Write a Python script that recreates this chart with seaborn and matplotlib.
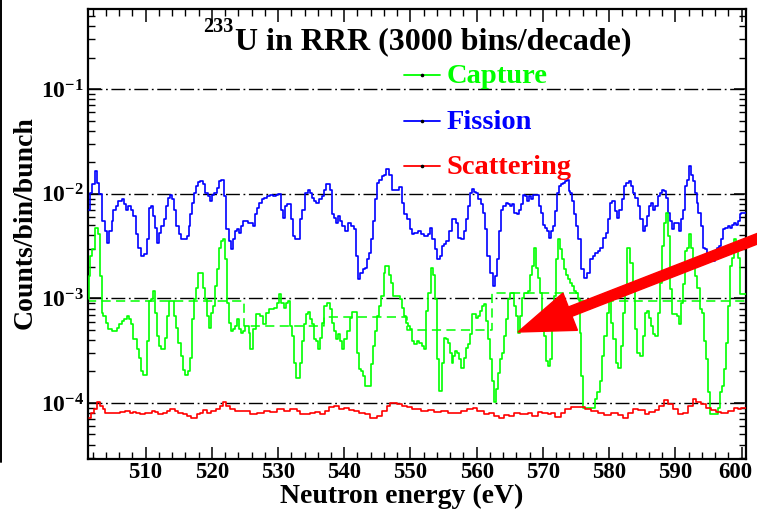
import numpy as np
import pandas as pd
import matplotlib
matplotlib.use("Agg")
import matplotlib.pyplot as plt
from matplotlib.lines import Line2D
from matplotlib.patches import FancyArrow
from matplotlib.transforms import IdentityTransform, ScaledTranslation
from matplotlib.ticker import MultipleLocator, LogLocator, FuncFormatter, NullFormatter
import seaborn as sns

# ---------------------------------------------------------------------------
# Counts per bin per bunch, 233U resolved resonance region (step start, value)
# ---------------------------------------------------------------------------
fission_steps = [
    (501.4, 7.08e-3), (501.6, 1.02e-2), (501.85, 1.23e-2), (502.36, 1.65e-2), (502.71, 1.27e-2),
    (503.01, 9.9e-3), (503.36, 5.48e-3), (503.86, 4.40e-3), (504.12, 3.40e-3), (504.52, 4.40e-3),
    (504.87, 5.48e-3), (505.12, 7.08e-3), (505.52, 7.62e-3), (505.87, 8.51e-3), (506.38, 8.83e-3),
    (506.73, 7.91e-3), (507.03, 7.08e-3), (507.38, 7.62e-3), (507.73, 7.08e-3), (508.03, 6.12e-3),
    (508.54, 4.09e-3), (508.89, 3.05e-3), (509.24, 2.54e-3), (509.74, 2.63e-3), (510.15, 3.66e-3),
    (510.45, 7.35e-3), (510.75, 7.62e-3), (511.15, 6.12e-3), (511.45, 4.73e-3), (511.75, 3.40e-3),
    (512.05, 4.24e-3), (512.36, 4.91e-3), (512.76, 5.69e-3), (513.06, 7.62e-3), (513.36, 9.16e-3),
    (513.66, 9.85e-3), (513.96, 8.83e-3), (514.27, 7.08e-3), (514.57, 4.91e-3), (514.97, 4.09e-3),
    (515.42, 3.66e-3), (516.18, 3.94e-3), (516.48, 4.91e-3), (516.78, 6.35e-3), (517.08, 8.20e-3),
    (517.38, 1.02e-2), (517.68, 1.18e-2), (517.98, 1.29e-2), (518.29, 1.32e-2), (518.69, 1.23e-2),
    (518.99, 1.02e-2), (519.39, 9.50e-3), (519.69, 8.51e-3), (519.99, 9.85e-3), (520.40, 1.02e-2),
    (520.80, 1.14e-2), (521.10, 1.32e-2), (521.40, 1.37e-2), (521.90, 9.50e-3), (522.21, 4.56e-3),
    (522.61, 3.53e-3), (522.91, 2.94e-3), (523.21, 3.66e-3), (523.51, 4.40e-3), (523.81, 4.56e-3),
    (524.12, 4.24e-3), (524.42, 4.91e-3), (524.72, 5.48e-3), (525.42, 5.28e-3), (525.84, 5.28e-3),
    (526.24, 4.91e-3), (526.54, 6.35e-3), (526.85, 7.35e-3), (527.15, 8.20e-3), (527.55, 8.83e-3),
    (527.95, 9.16e-3), (528.35, 9.50e-3), (528.86, 9.85e-3), (529.26, 9.50e-3), (529.66, 9.70e-3),
    (530.06, 9.90e-3), (530.46, 7.08e-3), (530.76, 5.90e-3), (531.07, 7.62e-3), (531.37, 7.91e-3),
    (531.97, 5.69e-3), (532.27, 3.94e-3), (532.57, 3.66e-3), (533.38, 5.69e-3), (533.68, 7.08e-3),
    (534.08, 1.02e-2), (534.48, 1.08e-2), (534.89, 1.02e-2), (535.19, 9.16e-3), (535.49, 8.51e-3),
    (535.79, 8.20e-3), (536.19, 8.83e-3), (536.59, 9.50e-3), (537.0, 1.10e-2), (537.3, 1.23e-2),
    (537.8, 1.10e-2), (538.1, 6.35e-3), (538.4, 5.90e-3), (538.7, 5.28e-3), (539.0, 6.12e-3),
    (539.4, 5.48e-3), (539.7, 4.91e-3), (540.1, 4.40e-3), (540.6, 5.28e-3), (541.0, 4.91e-3),
    (541.4, 4.56e-3), (541.8, 2.54e-3), (542.1, 1.52e-3), (542.4, 1.76e-3), (542.8, 1.89e-3),
    (543.1, 1.96e-3), (543.4, 2.36e-3), (543.7, 2.73e-3), (544.0, 3.66e-3), (544.4, 5.48e-3),
    (544.7, 8.83e-3), (545.0, 1.27e-2), (545.3, 1.37e-2), (545.7, 1.48e-2), (546.0, 1.53e-2),
    (546.3, 1.71e-2), (546.8, 1.53e-2), (547.2, 1.10e-2), (548.2, 1.17e-2), (548.7, 8.20e-3),
    (549.06, 6.35e-3), (549.46, 5.69e-3), (549.86, 4.56e-3), (550.26, 4.09e-3), (550.57, 4.24e-3),
    (551.07, 4.40e-3), (551.58, 4.09e-3), (552.08, 3.94e-3), (552.58, 4.09e-3), (552.98, 4.73e-3),
    (553.28, 3.66e-3), (553.69, 2.94e-3), (553.99, 2.36e-3), (554.39, 2.54e-3), (554.69, 3.16e-3),
    (555.0, 3.28e-3), (555.4, 3.53e-3), (555.8, 4.40e-3), (556.2, 5.69e-3), (556.9, 5.28e-3),
    (557.2, 3.80e-3), (557.6, 3.66e-3), (558.1, 4.40e-3), (558.4, 5.69e-3), (558.7, 7.62e-3),
    (559.0, 1.02e-2), (559.3, 1.12e-2), (559.6, 1.04e-2), (559.9, 1.02e-2), (560.2, 8.83e-3),
    (560.6, 7.91e-3), (560.9, 6.58e-3), (561.2, 4.56e-3), (561.6, 2.54e-3), (562.0, 1.76e-3),
    (562.4, 1.31e-3), (562.7, 1.63e-3), (563.0, 2.36e-3), (563.4, 4.40e-3), (563.7, 7.08e-3),
    (564.0, 7.62e-3), (564.4, 8.20e-3), (564.7, 7.91e-3), (565.1, 7.62e-3), (565.4, 7.91e-3),
    (565.7, 6.58e-3), (566.05, 6.35e-3), (566.45, 7.08e-3), (566.75, 7.91e-3), (567.05, 9.85e-3),
    (567.35, 9.50e-3), (567.65, 8.51e-3), (567.96, 9.50e-3), (568.26, 8.83e-3), (568.56, 9.85e-3),
    (569.36, 7.62e-3), (569.67, 6.58e-3), (569.97, 5.09e-3), (570.27, 4.73e-3), (570.57, 4.40e-3),
    (570.87, 3.80e-3), (571.17, 4.40e-3), (571.47, 4.91e-3), (571.78, 6.83e-3), (572.08, 1.02e-2),
    (572.38, 1.18e-2), (572.68, 1.23e-2), (572.98, 1.27e-2), (573.28, 1.32e-2), (573.59, 1.37e-2),
    (573.89, 1.06e-2), (574.09, 1.02e-2), (574.39, 8.51e-3), (574.69, 6.35e-3), (574.99, 4.91e-3),
    (575.31, 3.66e-3), (575.8, 1.89e-3), (576.2, 1.57e-3), (576.7, 1.76e-3), (577.1, 2.36e-3),
    (577.5, 2.54e-3), (577.9, 2.73e-3), (578.3, 2.83e-3), (578.7, 3.05e-3), (579.1, 3.80e-3),
    (579.5, 4.24e-3), (579.8, 5.69e-3), (580.2, 8.20e-3), (580.5, 8.51e-3), (580.9, 6.83e-3),
    (581.2, 5.90e-3), (581.5, 7.08e-3), (581.9, 8.83e-3), (582.3, 1.18e-2), (582.6, 1.27e-2),
    (582.95, 1.32e-2), (583.35, 1.18e-2), (583.65, 1.02e-2), (583.95, 9.16e-3), (584.35, 7.62e-3),
    (584.66, 5.69e-3), (585.06, 4.40e-3), (585.36, 4.91e-3), (585.66, 6.12e-3), (585.96, 7.62e-3),
    (586.26, 8.20e-3), (586.57, 7.08e-3), (586.97, 7.62e-3), (587.37, 9.50e-3), (587.67, 1.02e-2),
    (587.97, 1.10e-2), (588.28, 1.06e-2), (588.58, 9.16e-3), (588.88, 6.58e-3), (589.18, 5.48e-3),
    (589.48, 4.56e-3), (589.78, 5.28e-3), (590.59, 4.40e-3), (590.89, 5.69e-3), (591.19, 7.08e-3),
    (591.49, 1.18e-2), (591.79, 1.37e-2), (592.09, 1.84e-2), (592.3, 1.53e-2), (592.6, 1.32e-2),
    (592.9, 1.02e-2), (593.2, 8.20e-3), (593.5, 6.58e-3), (593.9, 4.91e-3), (594.2, 3.05e-3),
    (594.5, 2.94e-3), (594.8, 2.63e-3), (595.2, 2.27e-3), (596.0, 2.63e-3), (596.3, 3.05e-3),
    (596.6, 3.16e-3), (596.9, 3.66e-3), (597.2, 4.56e-3), (597.5, 4.73e-3), (597.9, 4.91e-3),
    (598.2, 4.73e-3), (598.5, 5.09e-3), (598.8, 5.28e-3), (599.1, 5.09e-3), (599.4, 5.48e-3),
    (599.7, 6.35e-3), (599.9, 6.58e-3),
]

capture_steps = [
    (501.4, 9.8e-4), (501.5, 1.63e-3), (501.6, 2.54e-3), (501.85, 2.94e-3), (502.36, 4.73e-3),
    (502.86, 4.09e-3), (503.11, 1.63e-3), (503.36, 7.3e-4), (503.61, 6.78e-4), (504.0, 5.86e-4),
    (504.37, 5.06e-4), (504.87, 4.88e-4), (505.62, 5.25e-4), (506.02, 5.65e-4), (506.38, 6.07e-4),
    (506.73, 6.30e-4), (507.13, 6.78e-4), (507.43, 6.30e-4), (507.73, 5.65e-4), (508.13, 4.06e-4),
    (508.64, 3.26e-4), (508.94, 2.71e-4), (509.24, 2.02e-4), (509.54, 1.84e-4), (510.15, 3.91e-4),
    (510.45, 9.4e-4), (510.75, 9.8e-4), (511.05, 1.17e-3), (511.35, 7.3e-4), (511.65, 4.37e-4),
    (511.95, 3.51e-4), (512.26, 3.26e-4), (512.96, 4.21e-4), (513.26, 6.78e-4), (513.56, 9.4e-4),
    (514.27, 6.78e-4), (514.57, 5.25e-4), (514.87, 3.77e-4), (515.27, 2.81e-4), (515.67, 2.07e-4),
    (515.97, 1.84e-4), (516.38, 2.02e-4), (516.78, 2.71e-4), (517.08, 6.30e-4), (517.38, 9.8e-4),
    (517.68, 1.26e-3), (517.98, 1.76e-3), (518.69, 1.26e-3), (518.99, 9.8e-4), (519.29, 6.78e-4),
    (519.59, 5.25e-4), (519.89, 7.3e-4), (520.20, 8.45e-4), (520.50, 1.31e-3), (520.80, 1.89e-3),
    (521.10, 3.05e-3), (521.40, 3.53e-3), (521.70, 3.66e-3), (522.0, 2.36e-3), (522.31, 9.1e-4),
    (522.61, 5.86e-4), (522.91, 4.88e-4), (523.21, 5.06e-4), (523.51, 5.45e-4), (523.81, 6.30e-4),
    (524.12, 5.06e-4), (524.42, 4.70e-4), (524.72, 4.88e-4), (525.02, 5.45e-4), (525.62, 4.70e-4),
    (525.84, 3.26e-4), (526.24, 5.06e-4), (526.64, 7.03e-4), (527.35, 6.78e-4), (527.75, 5.65e-4),
    (528.15, 7.3e-4), (528.65, 7.85e-4), (529.46, 8.14e-4), (529.86, 9.1e-4), (530.16, 1.09e-3),
    (530.46, 9.1e-4), (530.86, 8.14e-4), (531.17, 9.1e-4), (531.57, 9.4e-4), (531.87, 5.45e-4),
    (532.17, 4.37e-4), (532.47, 2.43e-4), (532.77, 1.75e-4), (533.28, 2.43e-4), (533.58, 3.91e-4),
    (533.88, 5.65e-4), (534.18, 7.03e-4), (534.48, 7.4e-4), (534.89, 6.30e-4), (535.19, 5.65e-4),
    (535.49, 4.06e-4), (535.79, 3.91e-4), (536.09, 3.26e-4), (536.39, 4.21e-4), (536.69, 5.86e-4),
    (537.0, 8.45e-4), (537.4, 9.1e-4), (537.8, 7.85e-4), (538.1, 5.86e-4), (538.4, 4.88e-4),
    (538.7, 4.06e-4), (539.0, 4.53e-4), (539.4, 3.91e-4), (539.7, 3.26e-4), (540.0, 4.06e-4),
    (540.4, 4.88e-4), (540.8, 6.53e-4), (541.1, 7.4e-4), (541.9, 3.03e-4), (542.2, 2.10e-4),
    (542.6, 2.02e-4), (542.9, 1.81e-4), (543.2, 1.45e-4), (544.1, 2.34e-4), (544.4, 3.51e-4),
    (544.7, 4.88e-4), (545.0, 6.78e-4), (545.3, 8.45e-4), (545.6, 1.05e-3), (546.0, 1.76e-3),
    (546.2, 2.04e-3), (546.8, 1.69e-3), (547.1, 1.41e-3), (547.4, 1.05e-3), (548.4, 9.8e-4),
    (548.7, 8.14e-4), (549.0, 6.78e-4), (549.3, 5.86e-4), (549.6, 5.45e-4), (549.9, 5.06e-4),
    (550.2, 3.91e-4), (550.57, 3.64e-4), (550.97, 3.91e-4), (551.27, 3.77e-4), (551.68, 3.51e-4),
    (552.08, 3.26e-4), (552.38, 7.57e-4), (552.68, 1.13e-3), (553.08, 1.96e-3), (553.38, 1.69e-3),
    (553.69, 9.8e-4), (553.99, 2.61e-4), (554.29, 1.30e-4), (554.69, 2.43e-4), (555.0, 4.21e-4),
    (555.3, 4.06e-4), (555.6, 3.77e-4), (555.9, 3.03e-4), (556.2, 2.43e-4), (556.5, 2.81e-4),
    (556.8, 3.14e-4), (557.1, 3.03e-4), (557.4, 2.61e-4), (557.7, 2.18e-4), (558.1, 2.71e-4),
    (558.4, 3.38e-4), (558.7, 3.64e-4), (559.0, 4.53e-4), (559.3, 7.03e-4), (559.9, 6.53e-4),
    (560.2, 6.78e-4), (560.5, 7.57e-4), (560.8, 8.45e-4), (561.1, 8.77e-4), (561.4, 6.07e-4),
    (561.7, 4.06e-4), (562.0, 2.61e-4), (562.3, 1.62e-4), (562.6, 1.01e-4), (562.9, 1.35e-4),
    (563.2, 1.95e-4), (563.5, 2.61e-4), (563.8, 3.03e-4), (564.1, 4.37e-4), (564.4, 6.30e-4),
    (564.7, 9.8e-4), (565.0, 1.13e-3), (565.65, 8.45e-4), (565.95, 6.78e-4), (566.25, 4.70e-4),
    (566.55, 6.78e-4), (566.85, 1.01e-3), (567.15, 1.13e-3), (567.75, 1.17e-3), (568.06, 1.69e-3),
    (568.36, 2.04e-3), (568.66, 3.05e-3), (568.96, 1.96e-3), (569.26, 1.57e-3), (569.56, 1.13e-3),
    (569.87, 7.03e-4), (570.17, 4.37e-4), (570.47, 2.52e-4), (570.77, 2.26e-4), (571.07, 2.61e-4),
    (571.37, 5.06e-4), (571.67, 1.05e-3), (571.98, 2.36e-3), (572.28, 3.66e-3), (572.58, 2.94e-3),
    (572.88, 2.36e-3), (573.18, 1.89e-3), (573.48, 1.69e-3), (573.79, 1.52e-3), (574.09, 1.41e-3),
    (574.39, 1.31e-3), (574.69, 1.17e-3), (574.99, 1.13e-3), (575.31, 9.8e-4), (575.6, 4.70e-4),
    (575.8, 1.81e-4), (576.1, 9.0e-5), (577.8, 1.08e-4), (578.2, 1.26e-4), (578.6, 1.62e-4),
    (578.9, 2.81e-4), (579.3, 4.37e-4), (579.7, 7.3e-4), (580.0, 9.8e-4), (580.3, 5.86e-4),
    (580.6, 4.06e-4), (581.0, 2.43e-4), (581.3, 2.18e-4), (581.8, 3.51e-4), (582.1, 7.3e-4),
    (582.4, 1.31e-3), (582.75, 3.05e-3), (583.15, 2.19e-3), (583.55, 1.22e-3), (583.85, 5.06e-4),
    (584.25, 3.03e-4), (584.66, 2.81e-4), (585.06, 4.37e-4), (585.36, 7.3e-4), (585.66, 7.57e-4),
    (585.96, 6.53e-4), (586.26, 5.45e-4), (586.67, 4.53e-4), (586.97, 4.37e-4), (587.37, 7.3e-4),
    (587.67, 1.41e-3), (587.97, 3.16e-3), (588.28, 5.28e-3), (588.58, 6.58e-3), (588.88, 3.94e-3),
    (589.18, 1.22e-3), (589.48, 7.03e-4), (590.29, 6.78e-4), (590.59, 5.65e-4), (590.89, 9.1e-4),
    (591.19, 1.36e-3), (591.49, 2.83e-3), (591.79, 3.05e-3), (592.09, 4.09e-3), (592.4, 3.05e-3),
    (592.7, 1.96e-3), (593.0, 1.63e-3), (593.3, 1.26e-3), (593.7, 7.85e-4), (594.0, 7.3e-4),
    (594.3, 3.91e-4), (594.6, 2.61e-4), (594.9, 1.26e-4), (595.2, 7.8e-5), (596.5, 9.0e-5),
    (596.8, 1.26e-4), (597.1, 1.45e-4), (597.4, 2.10e-4), (597.7, 3.77e-4), (598.0, 8.45e-4),
    (598.3, 2.04e-3), (598.6, 2.45e-3), (598.9, 3.66e-3), (599.2, 2.94e-3), (599.5, 2.45e-3),
    (599.8, 1.09e-3),
]

scattering_steps = [
    (501.4, 7.24e-5), (501.8, 8.09e-5), (502.2, 8.70e-5), (502.6, 1.01e-4), (503.1, 9.36e-5),
    (503.5, 8.70e-5), (503.9, 8.09e-5), (504.6, 7.97e-5), (506.1, 8.21e-5), (506.9, 8.39e-5),
    (507.6, 8.09e-5), (508.1, 8.27e-5), (508.6, 7.97e-5), (509.1, 7.80e-5), (509.9, 8.09e-5),
    (510.4, 7.97e-5), (510.9, 8.39e-5), (511.4, 8.21e-5), (511.9, 7.80e-5), (512.7, 8.09e-5),
    (513.2, 8.39e-5), (513.7, 8.83e-5), (514.4, 8.39e-5), (514.9, 8.09e-5), (515.7, 7.80e-5),
    (516.2, 7.51e-5), (516.9, 7.24e-5), (517.7, 7.80e-5), (518.2, 8.09e-5), (518.7, 8.57e-5),
    (519.2, 8.09e-5), (519.9, 8.39e-5), (520.7, 8.70e-5), (521.2, 9.36e-5), (521.7, 1.01e-4),
    (522.2, 9.36e-5), (522.7, 8.70e-5), (523.5, 8.39e-5), (525.7, 8.09e-5), (525.84, 7.80e-5),
    (526.85, 8.09e-5), (527.85, 8.39e-5), (528.86, 8.27e-5), (529.86, 8.70e-5), (530.87, 8.39e-5),
    (531.87, 8.70e-5), (532.88, 8.39e-5), (533.38, 7.80e-5), (534.89, 8.09e-5), (535.64, 8.21e-5),
    (536.39, 7.91e-5), (537.15, 8.39e-5), (537.65, 9.22e-5), (538.4, 9.36e-5), (539.2, 8.83e-5),
    (539.9, 9.02e-5), (540.7, 8.57e-5), (541.4, 8.39e-5), (542.2, 8.09e-5), (543.2, 7.80e-5),
    (543.9, 7.24e-5), (544.9, 7.51e-5), (545.7, 8.39e-5), (546.4, 9.36e-5), (546.9, 9.93e-5),
    (547.9, 9.71e-5), (548.7, 9.36e-5), (549.5, 9.22e-5), (550.2, 8.83e-5), (551.6, 8.39e-5),
    (552.6, 8.57e-5), (553.6, 8.21e-5), (554.6, 8.39e-5), (555.6, 7.97e-5), (556.6, 8.09e-5),
    (557.6, 8.39e-5), (558.6, 8.70e-5), (559.4, 9.02e-5), (560.1, 8.39e-5), (561.1, 7.80e-5),
    (561.9, 8.09e-5), (562.6, 7.51e-5), (563.4, 7.24e-5), (564.1, 7.63e-5), (564.9, 7.51e-5),
    (565.6, 8.09e-5), (566.6, 7.80e-5), (567.7, 8.09e-5), (568.4, 7.51e-5), (569.2, 8.21e-5),
    (569.9, 8.09e-5), (570.7, 7.80e-5), (571.2, 8.09e-5), (571.9, 7.40e-5), (572.7, 8.09e-5),
    (573.4, 8.83e-5), (574.2, 9.22e-5), (576.3, 8.70e-5), (577.3, 8.39e-5), (578.3, 7.97e-5),
    (579.3, 7.63e-5), (580.3, 8.09e-5), (581.3, 7.63e-5), (582.1, 7.24e-5), (582.8, 8.09e-5),
    (583.6, 8.83e-5), (584.4, 8.57e-5), (585.4, 7.80e-5), (586.1, 8.21e-5), (586.9, 8.57e-5),
    (587.6, 9.36e-5), (588.3, 1.07e-4), (588.9, 9.71e-5), (589.6, 8.70e-5), (590.4, 7.80e-5),
    (591.1, 8.09e-5), (591.9, 9.36e-5), (592.6, 1.10e-4), (593.1, 1.02e-4), (593.9, 9.71e-5),
    (594.7, 9.02e-5), (595.4, 8.57e-5), (596.2, 8.21e-5), (596.9, 8.09e-5), (597.9, 8.39e-5),
    (598.9, 9.02e-5), (599.4, 8.83e-5), (599.9, 9.02e-5),
]

# Capture averaged over coarse bins (100 bins/decade)
capture_coarse_edges = [501.2, 512.9, 524.8, 537.0, 549.5, 562.3, 575.4, 588.8, 602.6]
capture_coarse_values = [9.5e-4, 9.5e-4, 5.4e-4, 6.7e-4, 5.0e-4, 1.12e-3, 9.5e-4, 9.5e-4]

series_labels = ["Capture", "Fission", "Scattering"]
series_colors = ["#00ff00", "#0000ff", "#ff0000"]
decades = [1e-1, 1e-2, 1e-3, 1e-4]

E_MIN, E_MAX = 501.3, 600.6
Y_MIN, Y_MAX = 2.91e-5, 0.586

# ---------------------------------------------------------------------------
sns.set_theme(style="ticks")
plt.rcParams.update({
    "font.family": ["Liberation Serif", "DejaVu Serif"],
    "font.weight": "bold",
    "mathtext.fontset": "custom",
    "mathtext.rm": "Liberation Serif:bold",
    "mathtext.it": "Liberation Serif:italic:bold",
    "mathtext.bf": "Liberation Serif:bold",
    "axes.edgecolor": "black",
    "xtick.color": "black",
    "ytick.color": "black",
})

W, H = 757, 511
fig = plt.figure(figsize=(W / 100, H / 100), dpi=100)
fig.patch.set_facecolor("white")
ax = fig.add_axes([88 / W, 1 - 459 / H, (745.5 - 88) / W, (459 - 9) / H])
ax.set_facecolor("white")


def step_frame(steps, x_end):
    e = [s[0] for s in steps] + [x_end]
    v = [s[1] for s in steps] + [steps[-1][1]]
    return pd.DataFrame({"energy": e, "counts": v})


def draw_steps(df, color, lw=1.2, zorder=3):
    sns.lineplot(data=df, x="energy", y="counts", ax=ax, color=color,
                 drawstyle="steps-post", estimator=None, sort=False,
                 lw=lw, zorder=zorder)
    return ax.lines[-1]


# decade reference lines
for d in decades:
    ax.axhline(d, color="black", lw=1.0, dashes=(10, 2.6, 1.3, 2.6), zorder=1.5)

draw_steps(step_frame(fission_steps, E_MAX), series_colors[1])
draw_steps(step_frame(capture_steps, E_MAX), series_colors[0])
draw_steps(step_frame(scattering_steps, E_MAX), series_colors[2])

coarse = pd.DataFrame({"energy": capture_coarse_edges,
                       "counts": capture_coarse_values + [capture_coarse_values[-1]]})
avg_line = draw_steps(coarse, series_colors[0], lw=1.1, zorder=2.5)
avg_line.set_dashes((6, 3.5))

ax.set_yscale("log")
ax.set_xlim(E_MIN, E_MAX)
ax.set_ylim(Y_MIN, Y_MAX)
ax.set_xlabel("")
ax.set_ylabel("")

ax.xaxis.set_major_locator(MultipleLocator(10))
ax.xaxis.set_minor_locator(MultipleLocator(2))
ax.yaxis.set_major_locator(LogLocator(base=10, numticks=12))
ax.yaxis.set_minor_locator(LogLocator(base=10, subs=np.arange(2, 10), numticks=30))
ax.yaxis.set_minor_formatter(NullFormatter())
ax.yaxis.set_major_formatter(FuncFormatter(lambda v, p: r"$10^{%d}$" % int(round(np.log10(v)))))

ax.tick_params(which="both", direction="in", top=True, right=True, pad=3)
ax.tick_params(axis="x", labelsize=16.5, pad=2.5)
ax.tick_params(axis="y", labelsize=17)
ax.tick_params(which="major", length=9, width=1.1)
ax.tick_params(which="minor", length=5, width=1.0)
for lab in ax.get_xticklabels() + ax.get_yticklabels():
    lab.set_fontweight("bold")
for sp in ax.spines.values():
    sp.set_linewidth(1.6)
    sp.set_color("black")

# keep the last energy label inside the canvas
fig.canvas.draw()
for tick in ax.xaxis.get_major_ticks():
    if abs(tick.get_loc() - 600) < 1e-6:
        lab = tick.label1
        lab.set_transform(lab.get_transform() + ScaledTranslation(-6 / 100, 0, fig.dpi_scale_trans))

# title with isotope mass number
fig.text(235 / W, 1 - 49 / H, "U in RRR (3000 bins/decade)", fontsize=23,
         fontweight="bold", ha="left", va="baseline", color="black")
fig.text(233 / W, 1 - 32 / H, "233", fontsize=14.5, fontweight="bold",
         ha="right", va="baseline", color="black")

# axis titles
fig.text(402 / W, 1 - 503 / H, "Neutron energy (eV)", fontsize=20,
         fontweight="bold", ha="center", va="baseline", color="black")
fig.text(25 / W, 1 - 223 / H, "Counts/bin/bunch", fontsize=20,
         fontweight="bold", ha="center", va="center", rotation=90, color="black")

# legend entries
legend_rows = [75, 121, 166]
for label, color, yrow in zip(series_labels, series_colors, legend_rows):
    yf = 1 - yrow / H
    fig.add_artist(Line2D([404 / W, 440 / W], [yf, yf], color=color, lw=1.3,
                          transform=fig.transFigure))
    fig.add_artist(Line2D([422 / W], [yf], color="black", marker="o", markersize=1.6,
                          lw=0, transform=fig.transFigure))
    fig.text(447 / W, 1 - (yrow + 8) / H, label, fontsize=20.5, fontweight="bold",
             color=color, ha="left", va="baseline")

# neighbouring frame edge at far left
fig.add_artist(Line2D([1.2 / W, 1.2 / W], [1 - 462 / H, 1.0], color="black", lw=1.4,
                      transform=fig.transFigure))

# pointer arrow
tip_x, tip_y = 518, H - 332
tail_x, tail_y = 790, H - 226
fig.add_artist(FancyArrow(tail_x, tail_y, tip_x - tail_x, tip_y - tail_y, width=10,
                          head_width=40, head_length=56, length_includes_head=True,
                          color="#ff0000", transform=IdentityTransform(), zorder=10))

fig.savefig("out.png", dpi=100)
